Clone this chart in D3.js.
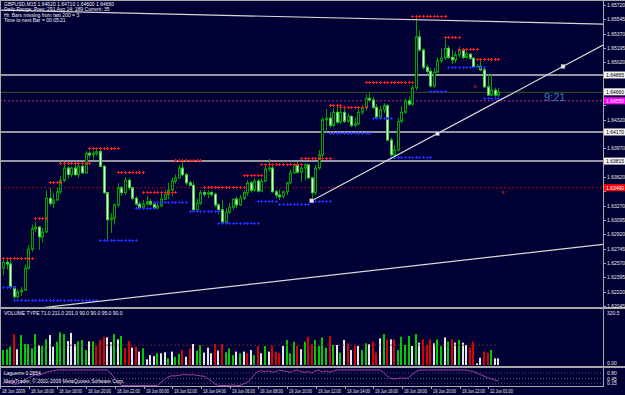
<!DOCTYPE html>
<html>
<head>
<meta charset="utf-8">
<script src="https://cdn.jsdelivr.net/npm/d3@7"></script>
<style>
  body { margin: 0; background: #000034; }
  svg text { font-family: "Liberation Sans", Arial, sans-serif; }
</style>
</head>
<body>
<svg id="chart" width="625" height="395"></svg>
<script>
// GBPUSD M15 bars (open of each bar = previous close)
let open0 = 1.6251
let closes = [
  1.6258,1.6256,1.6228,1.6216,1.6222,1.6224,1.6251,1.6274,1.6299,1.6301,
  1.6289,1.6295,1.6336,1.6330,1.6334,1.6344,1.6358,1.6373,1.6365,1.6373,
  1.6365,1.6375,1.6367,1.6391,1.6389,1.6391,1.6393,1.6375,1.6343,1.6310,
  1.6312,1.6328,1.6349,1.6343,1.6358,1.6349,1.6336,1.6329,1.6325,1.6329,
  1.6332,1.6329,1.6324,1.6327,1.6335,1.6341,1.6346,1.6357,1.6361,1.6373,
  1.6365,1.6355,1.6352,1.6322,1.6330,1.6343,1.6341,1.6343,1.6341,1.6328,
  1.6322,1.6307,1.6319,1.6325,1.6335,1.6328,1.6336,1.6343,1.6355,1.6346,
  1.6357,1.6345,1.6357,1.6372,1.6373,1.6344,1.6340,1.6338,1.6344,1.6355,
  1.6367,1.6377,1.6368,1.6373,1.6377,1.6361,1.6343,1.6373,1.6389,1.6432,
  1.6434,1.6425,1.6441,1.6429,1.6441,1.6430,1.6436,1.6425,1.6427,1.6441,
  1.6446,1.6458,1.6456,1.6447,1.6435,1.6444,1.6449,1.6407,1.6389,1.6395,
  1.6430,1.6441,1.6455,1.6451,1.6471,1.6533,1.6517,1.6496,1.6491,1.6473,
  1.6490,1.6504,1.6507,1.6519,1.6508,1.6505,1.6511,1.6517,1.6508,1.6512,
  1.6507,1.6496,1.6497,1.6493,1.6472,1.6462,1.6468,1.6462,1.6466
]
let highs = [
  1.6263,1.6262,1.6261,1.6229,1.6225,1.6228,1.6255,1.6279,1.6304,1.6307,
  1.6302,1.6300,1.6346,1.6349,1.6343,1.6349,1.6363,1.6380,1.6375,1.6375,
  1.6377,1.6378,1.6378,1.6394,1.6393,1.6394,1.6397,1.6395,1.6377,1.6344,
  1.6318,1.6330,1.6355,1.6351,1.6362,1.6361,1.6350,1.6339,1.6332,1.6334,
  1.6339,1.6335,1.6330,1.6332,1.6343,1.6346,1.6355,1.6361,1.6365,1.6377,
  1.6383,1.6367,1.6358,1.6356,1.6336,1.6346,1.6346,1.6346,1.6345,1.6343,
  1.6330,1.6334,1.6324,1.6330,1.6336,1.6338,1.6340,1.6346,1.6358,1.6357,
  1.6360,1.6360,1.6360,1.6377,1.6384,1.6377,1.6347,1.6347,1.6346,1.6356,
  1.6371,1.6379,1.6380,1.6375,1.6379,1.6377,1.6362,1.6377,1.6395,1.6435,
  1.6445,1.6441,1.6446,1.6449,1.6446,1.6449,1.6440,1.6438,1.6435,1.6446,
  1.6450,1.6463,1.6465,1.6460,1.6451,1.6449,1.6452,1.6451,1.6410,1.6401,
  1.6434,1.6449,1.6458,1.6460,1.6474,1.6557,1.6541,1.6519,1.6499,1.6495,
  1.6495,1.6508,1.6519,1.6533,1.6522,1.6517,1.6515,1.6521,1.6519,1.6515,
  1.6513,1.6508,1.6500,1.6507,1.6494,1.6488,1.6487,1.6471,1.6471
]
let lows = [
  1.6242,1.6249,1.6227,1.6212,1.6214,1.6217,1.6223,1.6249,1.6271,1.6295,
  1.6273,1.6282,1.6294,1.6327,1.6324,1.6333,1.6341,1.6356,1.6360,1.6362,
  1.6363,1.6361,1.6366,1.6366,1.6385,1.6383,1.6388,1.6374,1.6341,1.6285,
  1.6294,1.6304,1.6325,1.6339,1.6340,1.6346,1.6334,1.6327,1.6323,1.6323,
  1.6327,1.6327,1.6322,1.6322,1.6325,1.6334,1.6335,1.6339,1.6354,1.6360,
  1.6363,1.6352,1.6351,1.6319,1.6321,1.6328,1.6338,1.6336,1.6338,1.6325,
  1.6317,1.6306,1.6306,1.6317,1.6322,1.6324,1.6327,1.6334,1.6339,1.6343,
  1.6344,1.6343,1.6344,1.6356,1.6369,1.6343,1.6336,1.6334,1.6336,1.6340,
  1.6354,1.6366,1.6366,1.6356,1.6358,1.6360,1.6333,1.6340,1.6371,1.6385,
  1.6417,1.6422,1.6423,1.6427,1.6427,1.6428,1.6428,1.6423,1.6423,1.6425,
  1.6438,1.6443,1.6454,1.6445,1.6433,1.6433,1.6440,1.6406,1.6385,1.6388,
  1.6393,1.6428,1.6439,1.6449,1.6449,1.6468,1.6515,1.6493,1.6488,1.6471,
  1.6471,1.6489,1.6501,1.6505,1.6506,1.6500,1.6501,1.6508,1.6506,1.6506,
  1.6505,1.6495,1.6495,1.6491,1.6471,1.6461,1.6461,1.6460,1.6460
]

let volumes = [
  91,95,111,187,95,181,127,127,101,187,
  119,115,155,181,111,141,198,187,145,194,
  127,143,151,91,143,143,119,151,171,167,
  139,187,155,175,103,145,105,111,81,101,
  34,60,54,71,71,77,40,81,50,67,
  91,50,101,127,87,121,75,105,71,127,
  87,127,77,101,60,81,71,81,71,91,
  60,115,71,115,81,117,81,71,115,151,
  71,141,117,95,141,171,125,151,115,167,
  105,175,121,121,75,151,131,91,115,115,
  91,131,125,141,75,161,187,155,155,155,
  91,171,121,175,115,187,135,155,121,155,
  131,155,115,167,141,155,135,151,135,121,
  105,141,10,44,81,75,91,40,40
]
// g = up, r = down, w = neutral
let volumeKinds = ('gggrwggggg' + 'wggwwgggww' + 'wgggwgrrrw' + 'wgwgrrwrwg' + 'wwwgwwgwgg' +
  'rwrwggwwwr' + 'wrgggwgwrw' + 'grwgwrrrwg' + 'ggrwgrrggg' + 'grgwgwrwrw' +
  'ggwrrwgrwr' + 'ggggwgwrrr' + 'wggwgrwgww' + 'rrwwrrgww').split('')

let laguerre = [
  0.2,0.2,0.15,0.1,0.1,0.2,0.35,0.5,0.6,0.7,
  0.65,0.75,0.85,0.9,0.95,1,1,1,1,1,
  1,1,1,1,1,1,1,1,1,1,
  0.8,0.5,0.2,0,0,0,0,0,0,0,
  0,0,0,0,0.2,0.4,0.55,0.62,0.62,0.65,
  0.7,0.7,0.68,0.7,0.65,0.62,0.6,0.45,0.3,0.1,
  0,0,0,0,0.05,0,0,0.1,0.2,0.4,
  0.7,0.9,0.95,0.9,0.95,0.85,0.9,1,0.95,0.9,
  0.85,0.95,1,0.9,0.85,0.9,0.8,0.95,1,0.85,
  0.95,0.85,0.95,1,1,1,1,1,1,1,
  1,1,1,1,1,1,0.85,0.6,0.45,0.42,
  0.45,0.5,0.45,0.5,0.7,0.9,1,1,1,1,
  1,1,1,1,1,1,1,1,1,1,
  0.95,0.9,0.8,0.7,0.6,0.5,0.42,0.35,0.29
]
let laguerreLevels = [0.8, 0.45, 0.15]

// [first bar, last bar, price]
let resistance = [
  [0,8,1.6263],[9,12,1.6312],[13,16,1.6356],[16,24,1.6379],[24,32,1.6397],
  [32,39,1.6368],[39,48,1.6344],[48,55,1.6383],[56,67,1.6350],[67,72,1.6365],
  [72,83,1.6378],[83,91,1.6385],[91,94,1.6450],[94,101,1.6447],[101,114,1.6478],
  [114,123,1.6558],[123,127,1.6533],[127,132,1.6518],[132,138,1.6506]
]
let support = [
  [0,3,1.6228],[3,26,1.6212],[27,37,1.6285],[37,42,1.6324],[42,51,1.6332],
  [52,60,1.6321],[60,71,1.6306],[71,76,1.6333],[77,85,1.6329],[86,91,1.6333],
  [91,102,1.6416],[103,108,1.6434],[108,119,1.6387],[119,123,1.6467],
  [124,134,1.6496],[134,138,1.6458]
]

let whiteLevels = [1.64865, 1.64170, 1.63815]
let magentaLevel = 1.64550
let redLevel = 1.63490

// trend lines: two anchors [bar, price]
let topLine = [[25, 1.6563], [144, 1.6551]]
let bottomLine = [[9.7, 1.6202], [110.9, 1.6252]]
let rayLine = [[86, 1.6333], [156, 1.6497]]
let signals = [[131.5, 1.6473], [139.3, 1.6344]]

let priceTicks = [1.65720,1.65545,1.65370,1.65195,1.65020,1.64845,1.64670,1.64495,1.64320,1.64145,
  1.63970,1.63795,1.63620,1.63445,1.63270,1.63095,1.62920,1.62745,1.62570,1.62395,1.62220,1.62045]
let timeLabels = ['18 Jun 2009','18 Jun 16:00','18 Jun 18:00','18 Jun 20:00','18 Jun 22:00',
  '19 Jun 00:00','19 Jun 02:00','19 Jun 04:00','19 Jun 06:00','19 Jun 08:00','19 Jun 10:00',
  '19 Jun 12:00','19 Jun 14:00','19 Jun 16:00','19 Jun 18:00','19 Jun 20:00','19 Jun 22:00','22 Jun 01:00']

let headerLines = [
  'GBPUSD,M15  1.64620 1.64710 1.64600 1.64660',
  'Daily Range: Prev: 291  Avg 14: 189  Current: 35',
  'Hr. Bars missing from last 200 = 3',
  'Time to next Bar = 00:05:21'
]

let svg = d3.select('#chart')
let W = 625, H = 395, right = 603
let bg = '#000034'

svg.append('rect').attr('width', W).attr('height', H).attr('fill', bg)

let x = d3.scaleLinear().domain([0, 138]).range([3, 498.4])
let y = d3.scaleLinear().domain([1.6212, 1.6578]).range([300, 0])
let yVol = d3.scaleLinear().domain([0, 320.5]).range([365, 312])
let yLag = d3.scaleLinear().domain([0, 1]).range([385.5, 370])

let px = (i) => Math.round(x(i))

svg.append('clipPath').attr('id', 'mainClip')
  .append('rect').attr('x', 1).attr('y', 1).attr('width', right - 1).attr('height', 306)

let main = svg.append('g').attr('clip-path', 'url(#mainClip)')

// horizontal levels
main.selectAll('line.wl').data(whiteLevels).join('line')
  .attr('x1', 0).attr('x2', right).attr('y1', d => y(d)).attr('y2', d => y(d))
  .attr('stroke', '#c8c8c8').attr('stroke-width', 1.6)
main.append('line')
  .attr('x1', 0).attr('x2', right).attr('y1', y(magentaLevel)).attr('y2', y(magentaLevel))
  .attr('stroke', '#c0307a').attr('stroke-dasharray', '2,2')
main.append('line')
  .attr('x1', 0).attr('x2', right).attr('y1', y(redLevel)).attr('y2', y(redLevel))
  .attr('stroke', '#b00000').attr('stroke-dasharray', '2,2')
let bid = closes[closes.length - 1]
main.append('line')
  .attr('x1', 0).attr('x2', right).attr('y1', y(bid) + 0.5).attr('y2', y(bid) + 0.5)
  .attr('stroke', '#3e5416')

// candles
let bars = closes.map((c, i) => {
  let o = i === 0 ? open0 : closes[i - 1]
  return { i, o, c, h: Math.max(highs[i], o, c), l: Math.min(lows[i], o, c) }
})

main.selectAll('line.wick').data(bars).join('line')
  .attr('x1', d => px(d.i) + 0.5).attr('x2', d => px(d.i) + 0.5)
  .attr('y1', d => y(d.h)).attr('y2', d => y(d.l))
  .attr('stroke', '#00a000')

main.selectAll('rect.body').data(bars).join('rect')
  .attr('x', d => px(d.i) - 0.5)
  .attr('width', 2)
  .attr('y', d => y(Math.max(d.o, d.c)))
  .attr('height', d => Math.max(0.8, Math.abs(y(d.o) - y(d.c))))
  .attr('fill', d => d.c < d.o ? '#e4ffe4' : bg)
  .attr('stroke', d => d.c < d.o ? '#40d040' : '#00a000')
  .attr('stroke-width', 1)

// support / resistance crosses
let crossPoints = (segs) => segs.flatMap(s => d3.range(s[0], s[1] + 1).map(b => [b, s[2]]))
let drawCrosses = (pts, color) => {
  main.selectAll(null).data(pts).join('rect')
    .attr('x', d => px(d[0]) - 1).attr('y', d => Math.round(y(d[1])))
    .attr('width', 3).attr('height', 1).attr('fill', color)
  main.selectAll(null).data(pts).join('rect')
    .attr('x', d => px(d[0])).attr('y', d => Math.round(y(d[1])) - 1)
    .attr('width', 1).attr('height', 3).attr('fill', color)
}
drawCrosses(crossPoints(resistance), '#ff1a1a')
drawCrosses(crossPoints(support), '#1a2cff')

// trend lines
let extend = (line, fromBar, toBar) => {
  let [a, b] = line
  let slope = (b[1] - a[1]) / (b[0] - a[0])
  return [[fromBar, a[1] + (fromBar - a[0]) * slope], [toBar, a[1] + (toBar - a[0]) * slope]]
}
let leftBar = x.invert(0), rightBar = x.invert(right)
let trend = [extend(topLine, leftBar, rightBar), extend(bottomLine, leftBar, rightBar), extend(rayLine, rayLine[0][0], rightBar)]
main.selectAll('line.trend').data(trend).join('line')
  .attr('x1', d => x(d[0][0])).attr('y1', d => y(d[0][1]))
  .attr('x2', d => x(d[1][0])).attr('y2', d => y(d[1][1]))
  .attr('stroke', '#d8d8d8').attr('stroke-width', 1.2)

let handles = [rayLine[0], [(rayLine[0][0] + rayLine[1][0]) / 2, (rayLine[0][1] + rayLine[1][1]) / 2], rayLine[1]]
main.selectAll('rect.handle').data(handles).join('rect')
  .attr('x', d => x(d[0]) - 2).attr('y', d => y(d[1]) - 2)
  .attr('width', 4).attr('height', 4)
  .attr('fill', '#e8e8e8').attr('stroke', '#808080').attr('stroke-width', 0.5)

main.selectAll('text.sig').data(signals).join('text')
  .attr('x', d => x(d[0])).attr('y', d => y(d[1]) + 2)
  .attr('text-anchor', 'middle').attr('font-size', 6).attr('fill', '#ff2020')
  .text('x')

main.append('text').attr('x', 544).attr('y', 101)
  .attr('font-size', 11).attr('fill', '#3a78c0').text('9:21')

// header
svg.selectAll('text.hdr').data(headerLines).join('text')
  .attr('x', 4).attr('y', (d, i) => 6 + i * 5.4)
  .attr('font-size', 5).attr('fill', '#f0f0f0')
  .text(d => d)

// volume panel
svg.selectAll('rect.vol').data(volumes).join('rect')
  .attr('x', (d, i) => px(i) - 1).attr('width', 2)
  .attr('y', d => yVol(d)).attr('height', d => yVol(0) - yVol(d))
  .attr('fill', (d, i) => volumeKinds[i] === 'g' ? '#00cc00' : volumeKinds[i] === 'r' ? '#e00000' : '#e6e6e6')
svg.append('line')
  .attr('x1', 2).attr('x2', x(138)).attr('y1', yVol(120)).attr('y2', yVol(120))
  .attr('stroke', '#7a3020').attr('stroke-dasharray', '2,2').attr('stroke-width', 0.8)
svg.append('text').attr('x', 4).attr('y', 315).attr('font-size', 5).attr('fill', '#f0f0f0')
  .text('VOLUME TYPE 71.0 211.0 201.0 90.0 90.0 95.0 90.0')

// laguerre panel
svg.selectAll('line.lag').data(laguerreLevels).join('line')
  .attr('x1', 0).attr('x2', right).attr('y1', d => yLag(d)).attr('y2', d => yLag(d))
  .attr('stroke', '#7a7a7a').attr('stroke-dasharray', '1,2').attr('stroke-width', 0.7)
svg.append('path').datum(laguerre)
  .attr('d', d3.line().x((d, i) => x(i)).y(d => yLag(d)))
  .attr('fill', 'none').attr('stroke', '#a040a8').attr('stroke-width', 1)
svg.append('text').attr('x', 4).attr('y', 375).attr('font-size', 5).attr('fill', '#f0f0f0')
  .text('Laguerre 0.2854')
svg.append('text').attr('x', 4).attr('y', 383).attr('font-size', 5).attr('fill', '#f0f0f0')
  .text('MetaTrader, \u00a9 2001-2009 MetaQuotes Software Corp.')

// frames
let frame = '#a8a8a8'
svg.append('line').attr('x1', 0).attr('x2', W).attr('y1', 0.5).attr('y2', 0.5).attr('stroke', frame)
svg.append('line').attr('x1', 0.5).attr('x2', 0.5).attr('y1', 0).attr('y2', 387).attr('stroke', frame)
svg.append('line').attr('x1', right + 0.5).attr('x2', right + 0.5).attr('y1', 0).attr('y2', 387).attr('stroke', frame)
svg.append('line').attr('x1', 0).attr('x2', W).attr('y1', 308).attr('y2', 308).attr('stroke', frame).attr('stroke-width', 2)
svg.append('line').attr('x1', 0).attr('x2', W).attr('y1', 367).attr('y2', 367).attr('stroke', frame).attr('stroke-width', 2)
svg.append('line').attr('x1', 0).attr('x2', right).attr('y1', 386.5).attr('y2', 386.5).attr('stroke', frame)

// level boxes on the price axis
let boxes = whiteLevels.map(v => ({ v, fill: '#f4f4f4', ink: '#000000' }))
  .concat([{ v: bid, fill: '#f4f4f4', ink: '#000000' },
           { v: magentaLevel, fill: '#ff00ff', ink: '#ffffff' },
           { v: redLevel, fill: '#ff0000', ink: '#ffffff' }])

// price axis (skip ticks hidden under a level box)
let freeTicks = priceTicks.filter(t => boxes.every(b => Math.abs(y(t) - y(b.v)) > 6.5))
svg.selectAll('line.ptick').data(priceTicks).join('line')
  .attr('x1', right).attr('x2', right + 3).attr('y1', d => Math.round(y(d)) + 0.5).attr('y2', d => Math.round(y(d)) + 0.5)
  .attr('stroke', frame)
svg.selectAll('text.ptick').data(freeTicks).join('text')
  .attr('x', 607).attr('y', d => y(d) + 2)
  .attr('font-size', 5).attr('fill', '#e8e8e8')
  .text(d => d.toFixed(5))

svg.selectAll('rect.box').data(boxes).join('rect')
  .attr('x', right + 1).attr('y', d => y(d.v) - 3.5).attr('width', W - right).attr('height', 7)
  .attr('fill', d => d.fill)
svg.selectAll('text.box').data(boxes).join('text')
  .attr('x', 606).attr('y', d => y(d.v) + 2)
  .attr('font-size', 5).attr('fill', d => d.ink)
  .text(d => d.v.toFixed(5))

svg.append('text').attr('x', 607).attr('y', 315).attr('font-size', 5).attr('fill', '#e8e8e8').text('320.5')
svg.append('text').attr('x', 607).attr('y', 365).attr('font-size', 5).attr('fill', '#e8e8e8').text('0.00')
svg.selectAll('text.lagl').data(laguerreLevels).join('text')
  .attr('x', 607).attr('y', d => yLag(d) + 2)
  .attr('font-size', 5).attr('fill', '#e8e8e8')
  .text(d => d.toFixed(2))

// time axis
svg.selectAll('line.ttick').data(timeLabels).join('line')
  .attr('x1', (d, i) => px(i * 8) - 2.5).attr('x2', (d, i) => px(i * 8) - 2.5)
  .attr('y1', 386).attr('y2', 389).attr('stroke', frame)
svg.selectAll('text.tl').data(timeLabels).join('text')
  .attr('x', (d, i) => px(i * 8) - 1).attr('y', 392.5)
  .attr('font-size', 4.6).attr('fill', '#e8e8e8')
  .attr('textLength', 23).attr('lengthAdjust', 'spacingAndGlyphs')
  .text(d => d)
</script>
</body>
</html>
